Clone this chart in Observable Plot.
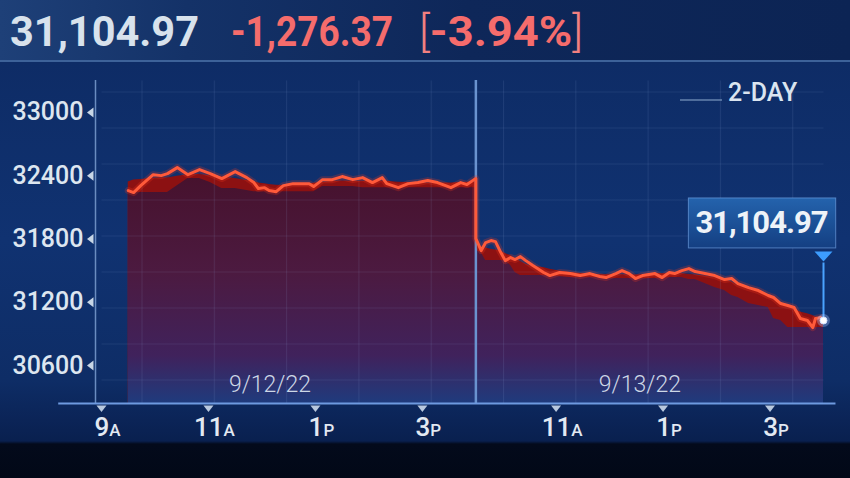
<!DOCTYPE html>
<html>
<head>
<meta charset="utf-8">
<script src="https://cdn.jsdelivr.net/npm/d3@7"></script>
<script src="https://cdn.jsdelivr.net/npm/@observablehq/plot@0.6"></script>
<style>
  html, body { margin:0; padding:0; background:#03091a; }
  #stage { position:relative; width:850px; height:478px; overflow:hidden;
    font-family: Roboto, "Open Sans", sans-serif;
    background: linear-gradient(180deg, #0c2659 0px, #0e2c66 62px, #103271 240px, #0e2d66 380px, #0b2457 420px, #09204f 441px, #030a1b 444px, #020817 478px); }
  #header { position:absolute; left:0; top:0; width:850px; height:60px;
    background: linear-gradient(90deg, #1e4078 0%, #143268 22%, #0e2759 55%, #0c2454 100%);
    border-bottom: 2px solid #3d6299; }
  .hv { position:absolute; top:10px; font-size:43px; line-height:43px; font-weight:700; white-space:nowrap; transform-origin:0 0; }
  #price { left:10px; color:#d8e2ec; }
  #chg { left:231px; color:#f56c6c; }
  #pct { left:419px; color:#f56c6c; }
  #pct .br { font-weight:300; color:#f28080; }
  #range { position:absolute; left:728px; top:78px; font-size:25px; font-weight:500; color:#dbe5f0; }
  #rangeLine { position:absolute; left:680px; top:99px; width:42px; height:2px; background:#4f6d9c; }
  #chart { position:absolute; left:0; top:62px; }
</style>
</head>
<body>
<div id="stage">
  <div id="header">
    <span class="hv" id="price"></span>
    <span class="hv" id="chg"></span>
    <span class="hv" id="pct"></span>
  </div>
  <div id="rangeLine"></div>
  <div id="range"></div>
  <div id="chart"></div>
</div>
<script>
// ---------- data ----------
const headerPrice = "31,104.97";
const headerChange = "-1,276.37";
const headerPct = "-3.94%";
const rangeLabel = "2-DAY";
const closeLabel = "31,104.97";

const dayLabels = ["9/12/22", "9/13/22"];
const dateLabelMinutes = [159, 574];
const sessionBreak = 390;

// minutes since 9:30 on 9/12 (trading minutes, sessions joined)
const day1Minutes = [0,6,14,28,37,44,55,67,80,92,105,120,133,141,146,153,158,166,174,185,203,208,218,229,240,252,263,274,285,290,303,314,325,336,347,362,373,380,388,390];
const day1Values  = [32259,32240,32306,32410,32401,32420,32477,32410,32458,32420,32373,32439,32382,32335,32278,32287,32259,32249,32306,32325,32325,32297,32363,32363,32392,32363,32382,32335,32382,32325,32287,32325,32335,32354,32335,32287,32335,32316,32363,32372];

const day2Minutes = [390,396,401,407,412,418,423,429,434,440,446,454,466,473,484,496,507,518,529,536,547,554,562,569,577,584,591,599,607,613,621,629,636,647,658,669,677,684,696,707,718,724,732,740,747,754,762,768,771,777,780];
const day2Values  = [31804,31690,31766,31785,31775,31671,31595,31624,31605,31633,31595,31548,31482,31453,31482,31472,31453,31472,31444,31434,31472,31500,31472,31425,31453,31463,31472,31434,31482,31472,31500,31519,31491,31472,31453,31415,31425,31377,31339,31311,31264,31245,31188,31169,31150,31046,31027,30960,31046,31055,31027];

const yTickValues = [30600, 31200, 31800, 32400, 33000];
const xTickMinutes = [-30, 90, 210, 330, 480, 600, 720];
const xTickLabels = ["9A", "11A", "1P", "3P", "11A", "1P", "3P"];

// ---------- layout ----------
const floorValue = 30240, topValue = 33303;
const xStart = -30, xEnd = 780;
const H = 416, mT = 18, mB = 75;
const pxPerUnit = (H - mT - mB) / (topValue - floorValue);

const rows = [
  ...day1Minutes.map((m, i) => ({day: dayLabels[0], m, v: day1Values[i]})),
  ...day2Minutes.map((m, i) => ({day: dayLabels[1], m, v: day2Values[i]}))
];
const last = rows[rows.length - 1];

const downTri = {draw(ctx){ ctx.moveTo(-5, -3); ctx.lineTo(5, -3); ctx.lineTo(0, 3.5); ctx.closePath(); }};
const leftTri = {draw(ctx){ ctx.moveTo(3, -5); ctx.lineTo(3, 5); ctx.lineTo(-3.5, 0); ctx.closePath(); }};
const bigDownTri = {draw(ctx){ ctx.moveTo(-9, -5); ctx.lineTo(9, -5); ctx.lineTo(0, 5); ctx.closePath(); }};

const plot = Plot.plot({
  width: 850, height: H,
  marginLeft: 101, marginRight: 27, marginTop: mT, marginBottom: mB,
  x: {domain: [xStart, xEnd], axis: null},
  y: {domain: [floorValue, topValue], axis: null},
  style: {background: "transparent", overflow: "visible", fontFamily: "Roboto, 'Open Sans', sans-serif"},
  marks: [
    Plot.areaY(rows, Plot.windowY({k: 11, reduce: "mean"}, {x: "m", y1: floorValue, y2: "v", z: "day", fill: "#8c1112"})),
    Plot.areaY(rows, Plot.windowY({k: 9, reduce: "min"}, {x: "m", y1: floorValue, y2: "v", z: "day", fill: "url(#maroonGrad)"})),
    Plot.frame({fill: "url(#gridPat)", stroke: "none"}),
    Plot.ruleX([xStart], {dx: -6, stroke: "#6a8cc0", strokeWidth: 1.5}),
    Plot.ruleX([sessionBreak], {stroke: "#6a93cf", strokeWidth: 2.5}),
    Plot.ruleY([floorValue], {x1: xStart - 48, x2: xEnd + 14, stroke: "#6e9ae0", strokeWidth: 2}),
    Plot.line(rows, {x: "m", y: "v", stroke: "#ff3a1a", strokeWidth: 7, strokeOpacity: 0.22}),
    Plot.line(rows, {x: "m", y: "v", stroke: "#ff5a3a", strokeWidth: 3}),
    // y axis
    Plot.dot(yTickValues, {y: d => d, frameAnchor: "left", symbol: leftTri, fill: "#c8d6e6", dx: -11}),
    Plot.text(yTickValues, {y: d => d, frameAnchor: "left", text: d => String(d), dx: -18, textAnchor: "end", fontSize: 25, fontWeight: 500, fill: "#dde6f0"}),
    // x axis
    Plot.dot(xTickMinutes, {x: d => d, frameAnchor: "bottom", symbol: downTri, fill: "#b8c8de", dy: 5}),
    Plot.text(xTickMinutes, {x: d => d, frameAnchor: "bottom", text: (d, i) => xTickLabels[i], dx: 6, dy: 32, fontSize: 26, fontWeight: 500, fill: "#e2e9f2"}),
    Plot.text(dayLabels, {x: (d, i) => dateLabelMinutes[i], frameAnchor: "bottom", text: d => d, dy: -12, fontSize: 23, fontWeight: 300, fill: "#cdd7e6"}),
    // callout
    Plot.link([last], {x1: "m", x2: "m", y1: "v", y2: d => d.v + 58 / pxPerUnit, stroke: "#4aa3ff", strokeWidth: 2}),
    Plot.dot([last], {x: "m", y: "v", symbol: bigDownTri, fill: "#3d9dff", dy: -64}),
    Plot.dot([last], {x: "m", y: "v", r: 6.5, fill: "#a8c8ff", fillOpacity: 0.35}),
    Plot.dot([last], {x: "m", y: "v", r: 3.5, fill: "#ffffff", stroke: "#cfe0ff", strokeWidth: 1}),
    Plot.text([last], {x: "m", y: "v", text: () => closeLabel, dx: 4, dy: -97, textAnchor: "end", fontSize: 31, fontWeight: 700, fill: "#eef3f8"})
  ]
});

document.getElementById("chart").appendChild(plot);

// ---------- post styling ----------
const svg = d3.select(plot);
const ys = plot.scale("y");
const defs = svg.insert("defs", ":first-child");
const mg = defs.append("linearGradient").attr("id", "maroonGrad")
  .attr("gradientUnits", "userSpaceOnUse").attr("x1", 0).attr("x2", 0)
  .attr("y1", ys.apply(32500)).attr("y2", ys.apply(floorValue));
[[0, "#46112b"], [0.45, "#4c1a40"], [0.8, "#40225c"], [1, "#1f3b7d"]].forEach(([o, c]) =>
  mg.append("stop").attr("offset", o).attr("stop-color", c));
const pat = defs.append("pattern").attr("id", "gridPat").attr("patternUnits", "userSpaceOnUse")
  .attr("x", 141).attr("y", 65).attr("width", 72.3).attr("height", 36);
pat.append("line").attr("x1", 0.5).attr("x2", 0.5).attr("y1", 0).attr("y2", 36).attr("stroke", "rgba(150,175,225,0.12)");
pat.append("line").attr("x1", 0).attr("x2", 72.3).attr("y1", 0.5).attr("y2", 0.5).attr("stroke", "rgba(150,175,225,0.10)");
const bg = defs.append("linearGradient").attr("id", "boxGrad").attr("x1", 0).attr("x2", 0).attr("y1", 0).attr("y2", 1);
bg.append("stop").attr("offset", 0).attr("stop-color", "#2463ad");
bg.append("stop").attr("offset", 1).attr("stop-color", "#143f82");

const allTexts = Array.from(plot.querySelectorAll("text"));
allTexts.filter(t => /^\d+[AP]$/.test(t.textContent)).forEach(t => {
  const s = t.textContent;
  t.textContent = s.slice(0, -1);
  d3.select(t).append("tspan").attr("font-size", 17).text(s.slice(-1));
});

const ct = allTexts.find(t => t.textContent === closeLabel);
if (ct) {
  ct.setAttribute("letter-spacing", "-1");
  const bb = ct.getBBox();
  const cy = bb.y + bb.height / 2;
  const r = document.createElementNS("http://www.w3.org/2000/svg", "rect");
  r.setAttribute("x", bb.x - 7);
  r.setAttribute("y", cy - 25);
  r.setAttribute("width", bb.width + 15);
  r.setAttribute("height", 50);
  r.setAttribute("fill", "url(#boxGrad)");
  r.setAttribute("stroke", "rgba(120,170,235,0.6)");
  r.setAttribute("stroke-width", 1);
  const tf = ct.getAttribute("transform");
  if (tf) r.setAttribute("transform", tf);
  ct.parentNode.insertBefore(r, ct);
}

// header
document.getElementById("price").textContent = headerPrice;
document.getElementById("chg").textContent = headerChange;
const pctEl = document.getElementById("pct");
pctEl.innerHTML = '<span class="br">[</span><span></span><span class="br">]</span>';
pctEl.children[1].textContent = headerPct;
document.getElementById("range").textContent = rangeLabel;
function fit(id, w) {
  const el = document.getElementById(id);
  const cur = el.getBoundingClientRect().width;
  el.style.transform = `scaleX(${w / cur})`;
}
fit("price", 189);
fit("chg", 162);
fit("pct", 164);
</script>
</body>
</html>
